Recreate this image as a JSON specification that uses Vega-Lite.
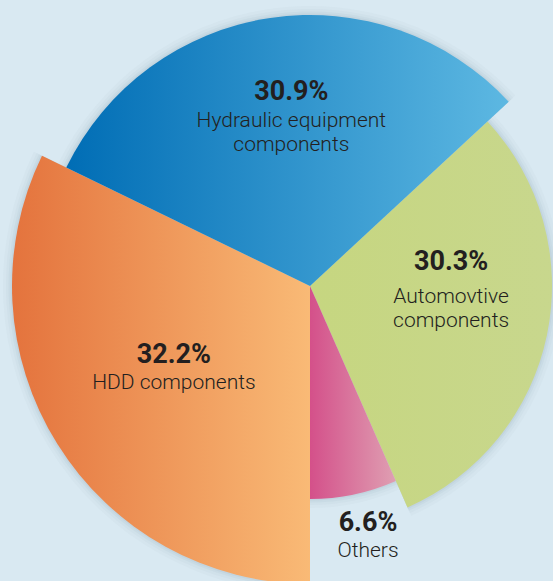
{
  "$schema": "https://vega.github.io/schema/vega-lite/v6.json",
  "width": 486,
  "height": 572,
  "autosize": {"type": "none"},
  "padding": {"left": 67, "top": 0, "right": 0, "bottom": 9},
  "background": "#d9e9f2",
  "view": {"stroke": null},
  "data": {
    "values": [
      {"o": 1, "cat": "Automovtive components", "label": "Automovtive\ncomponents", "pct": 30.3},
      {"o": 2, "cat": "Others", "label": "Others", "pct": 6.6},
      {"o": 3, "cat": "HDD components", "label": "HDD components", "pct": 32.2},
      {"o": 4, "cat": "Hydraulic equipment components", "label": "Hydraulic equipment\ncomponents", "pct": 30.9}
    ]
  },
  "transform": [{"calculate": "format(datum.pct, '.1f') + '%'", "as": "pctLabel"}],
  "encoding": {
    "theta": {"field": "pct", "type": "quantitative", "stack": true, "scale": {"range": [0.8231, 7.1063]}},
    "order": {"field": "o", "type": "quantitative"}
  },
  "layer": [
    {
      "mark": {"type": "arc", "fill": "#6d8797", "opacity": 0.035,
        "outerRadius": {"expr": "(datum.o === 1 ? 242 : datum.o === 2 ? 213 : datum.o === 3 ? 298 : 271) + 9"}}
    },
    {
      "mark": {"type": "arc", "fill": "#6d8797", "opacity": 0.045,
        "outerRadius": {"expr": "(datum.o === 1 ? 242 : datum.o === 2 ? 213 : datum.o === 3 ? 298 : 271) + 6"}}
    },
    {
      "mark": {"type": "arc", "fill": "#6d8797", "opacity": 0.06,
        "outerRadius": {"expr": "(datum.o === 1 ? 242 : datum.o === 2 ? 213 : datum.o === 3 ? 298 : 271) + 3.5"}}
    },
    {
      "mark": {"type": "arc", "fill": "#6d8797", "opacity": 0.08,
        "outerRadius": {"expr": "(datum.o === 1 ? 242 : datum.o === 2 ? 213 : datum.o === 3 ? 298 : 271) + 1.5"}}
    },
    {
      "mark": {"type": "arc", "stroke": null,
        "outerRadius": {"expr": "datum.o === 1 ? 242 : datum.o === 2 ? 213 : datum.o === 3 ? 298 : 271"}},
      "encoding": {
        "color": {
          "condition": [
            {"test": "datum.o === 2", "value": {"gradient": "linear", "x1": 0, "y1": 0, "x2": 1, "y2": 0, "stops": [{"offset": 0, "color": "#d4508a"}, {"offset": 1, "color": "#df9fb2"}]}},
            {"test": "datum.o === 3", "value": {"gradient": "linear", "x1": 0, "y1": 0, "x2": 1, "y2": 0, "stops": [{"offset": 0, "color": "#e4733d"}, {"offset": 1, "color": "#f9ba76"}]}},
            {"test": "datum.o === 4", "value": {"gradient": "linear", "x1": 0, "y1": 0, "x2": 1, "y2": 0, "stops": [{"offset": 0, "color": "#006db5"}, {"offset": 1, "color": "#5db8e2"}]}}
          ],
          "value": {"gradient": "linear", "x1": 0, "y1": 0, "x2": 1, "y2": 0, "stops": [{"offset": 0, "color": "#c6d680"}, {"offset": 1, "color": "#c8d78d"}]}
        }
      }
    },
    {
      "mark": {
        "type": "text",
        "font": "Roboto",
        "fontWeight": "bold",
        "fontSize": 27,
        "color": "#231f20",
        "align": "center",
        "baseline": "alphabetic",
        "radius": {"expr": "datum.o === 1 ? 142 : datum.o === 2 ? 277 : datum.o === 3 ? 170 : 161"},
        "dx": {"expr": "datum.o === 1 ? 2 : datum.o === 3 ? 8 : datum.o === 4 ? 5 : 1"},
        "dy": {"expr": "datum.o === 1 ? -45 : datum.o === 3 ? -13 : datum.o === 4 ? -27 : -26"}
      },
      "encoding": {
        "text": {"field": "pctLabel", "type": "nominal"}
      }
    },
    {
      "mark": {
        "type": "text",
        "font": "Roboto",
        "fontSize": 21,
        "fontWeight": 300,
        "color": "#231f20",
        "align": "center",
        "baseline": "alphabetic",
        "lineBreak": "\n",
        "lineHeight": 24,
        "radius": {"expr": "datum.o === 1 ? 142 : datum.o === 2 ? 277 : datum.o === 3 ? 170 : 161"},
        "dx": {"expr": "datum.o === 1 ? 2 : datum.o === 3 ? 8 : datum.o === 4 ? 5 : 1"},
        "dy": {"expr": "datum.o === 1 ? -12 : datum.o === 3 ? 13 : 0"}
      },
      "encoding": {
        "text": {"field": "label", "type": "nominal"}
      }
    }
  ]
}
